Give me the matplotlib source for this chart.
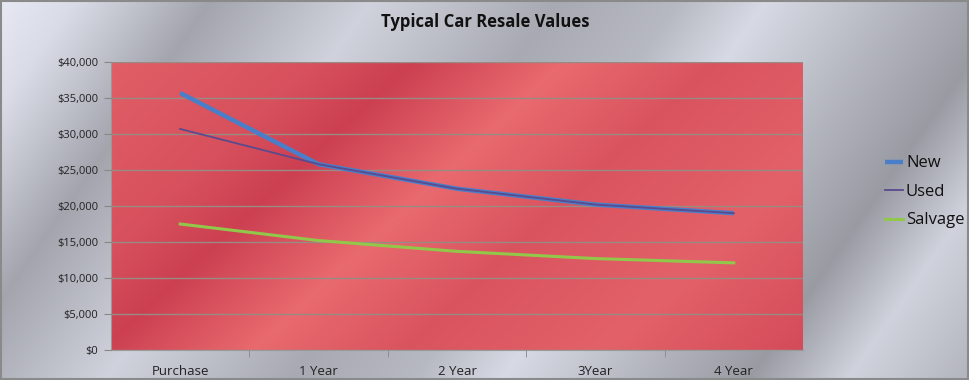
import matplotlib
matplotlib.use("Agg")
import matplotlib.pyplot as plt
import numpy as np
from matplotlib.ticker import FuncFormatter, MultipleLocator

# data
periods = ['Purchase', '1 Year', '2 Year', '3Year', '4 Year']
new_vals = [35700, 25800, 22400, 20200, 19000]
used_vals = [30700, 25800, 22400, 20200, 19000]
salvage_vals = [17500, 15200, 13700, 12700, 12100]

font = ['Open Sans', 'DejaVu Sans']

fig = plt.figure(figsize=(9.7, 3.8), dpi=100)

# metallic gray background
bg = fig.add_axes([0, 0, 1, 1])
h, w = 380, 970
yy, xx = np.mgrid[0:h, 0:w]
u = (xx + 0.7 * yy) / (w + 0.7 * h)
stops = [0.0, 0.06, 0.17, 0.3, 0.45, 0.55, 0.62, 0.72, 0.82, 0.9, 1.0]
levels = [0.93, 0.88, 0.66, 0.84, 0.68, 0.74, 0.87, 0.74, 0.62, 0.84, 0.72]
g = np.interp(u, stops, levels)
img = np.dstack([g * 0.97, g * 0.98, g * 1.03]).clip(0, 1)
bg.imshow(img, aspect='auto', extent=[0, 1, 0, 1], origin='upper')
bg.set_axis_off()
fig.patches.append(plt.Rectangle((0.001, 0.002), 0.997, 0.995, transform=fig.transFigure,
                                 fill=False, edgecolor='#8a8a8a', linewidth=1.5))

ax = fig.add_axes([111 / 970, 30 / 380, 692 / 970, 288 / 380])
ax.set_zorder(2)

# red gradient plot area
ph, pw = 200, 500
py, px = np.mgrid[0:ph, 0:pw]
v = (px / pw + 0.45 * py / ph) / 1.45
rstops = [0.0, 0.2, 0.3, 0.45, 0.6, 0.8, 1.0]
rlev = [0.55, 0.3, 0.0, 0.75, 0.35, 0.6, 0.2]
t = np.interp(v, rstops, rlev)
dark = np.array([0.80, 0.25, 0.32])
light = np.array([0.95, 0.47, 0.47])
red_img = dark + (light - dark) * t[..., None]
ax.imshow(red_img, aspect='auto', extent=[0, 1, 0, 1], transform=ax.transAxes, zorder=0)

x = np.arange(len(periods))
ax.plot(x, new_vals, color='#4a7ec8', linewidth=3.2, label='New', zorder=3, solid_capstyle='butt')
ax.plot(x, used_vals, color='#5a4a8e', linewidth=1.3, label='Used', zorder=4)
ax.plot(x, salvage_vals, color='#92c84a', linewidth=2.2, label='Salvage', zorder=3)

ax.set_xlim(-0.5, len(periods) - 0.5)
ax.set_ylim(0, 40000)
ax.yaxis.set_major_locator(MultipleLocator(5000))
ax.yaxis.set_major_formatter(FuncFormatter(lambda val, pos: '${:,.0f}'.format(val)))
ax.grid(axis='y', color='#9a8a84', linewidth=1.0, zorder=1)
ax.set_axisbelow(False)
ax.set_xticks(x)
ax.set_xticklabels(periods)
ax.set_xticks(np.arange(0.5, len(periods) - 0.5, 1), minor=True)
ax.tick_params(axis='x', which='major', length=0, pad=11, labelsize=9.5, labelcolor='#222222')
ax.tick_params(axis='x', which='minor', length=5, color='#888888')
ax.tick_params(axis='y', length=5, color='#888888', labelsize=8, labelcolor='#222222', pad=4)
for side in ['top', 'right']:
    ax.spines[side].set_visible(False)
ax.spines['left'].set_color('#999999')
ax.spines['bottom'].set_color('#999999')
for lbl in ax.get_yticklabels() + ax.get_xticklabels():
    lbl.set_family(font)

fig.text(0.5, 0.942, 'Typical Car Resale Values', ha='center', va='center',
         fontsize=12, fontweight='bold', color='#111111',
         family=['Liberation Sans Narrow', 'Open Sans', 'DejaVu Sans'])

leg = fig.legend(loc='center left', bbox_to_anchor=(0.897, 0.495), frameon=False,
                 handlelength=1.1, handletextpad=0.15, labelspacing=0.75,
                 prop={'family': font, 'size': 12})
for txt in leg.get_texts():
    txt.set_color('#111111')

plt.savefig('out.png', dpi=100)
